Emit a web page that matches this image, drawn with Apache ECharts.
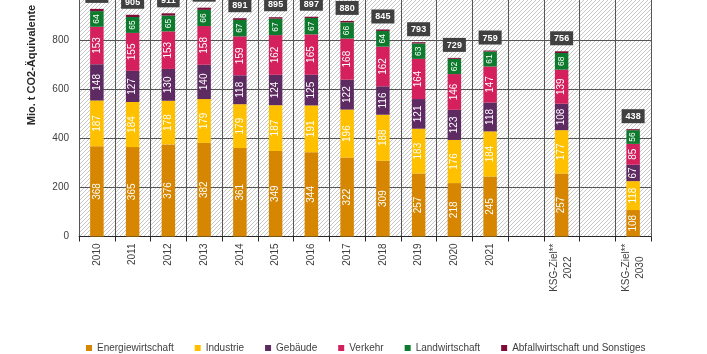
<!DOCTYPE html>
<html>
<head>
<meta charset="utf-8">
<script src="https://cdn.jsdelivr.net/npm/echarts@6/dist/echarts.min.js"></script>
<style>
html,body{margin:0;padding:0;background:#fff;}
#chart{width:707px;height:354px;}
</style>
</head>
<body>
<div id="chart"></div>
<script>
var categories = ['2010','2011','2012','2013','2014','2015','2016','2017','2018','2019','2020','2021','','KSG-Ziel**\n2022',' ','KSG-Ziel**\n2030'];
var seriesNames = ['Energiewirtschaft','Industrie','Gebäude','Verkehr','Landwirtschaft','Abfallwirtschaft und Sonstiges'];
var energie   = [368,365,376,382,361,349,344,322,309,257,218,245,'-',257,'-',108];
var industrie = [187,184,178,179,179,187,191,196,188,183,176,184,'-',177,'-',118];
var gebaeude  = [148,127,130,140,118,124,125,122,116,121,123,118,'-',108,'-',67];
var verkehr   = [153,155,153,158,159,162,165,168,162,164,146,147,'-',139,'-',85];
var landwirt  = [64,65,65,66,67,67,67,66,64,63,62,61,'-',68,'-',56];
var abfall    = [9,9,9,9,7,6,5,6,6,5,4,4,'-',7,'-',4];
var totals    = [929,905,911,934,891,895,897,880,845,793,729,759,'',756,'',438];
var yTicks = {min:0, max:1000, interval:200};

var colors = ['#d68600','#ffc000','#5d2b61','#d4205c','#0e7a2e','#7f0c37'];

var tile = document.createElement('canvas');
tile.width = 4; tile.height = 4;
var tc = tile.getContext('2d');
tc.fillStyle = '#ffffff'; tc.fillRect(0,0,4,4);
tc.strokeStyle = '#c6c6c6'; tc.lineWidth = 1;
tc.beginPath();
tc.moveTo(-1,5); tc.lineTo(5,-1);
tc.moveTo(-1,1); tc.lineTo(1,-1);
tc.moveTo(3,5); tc.lineTo(5,3);
tc.stroke();

var chart = echarts.init(document.getElementById('chart'), null, {renderer:'canvas'});

function inLabel(size){
  return {show:true, position:'inside', rotate:90, color:'#ffffff', fontSize:size, fontFamily:'Liberation Sans, Arial, sans-serif'};
}
var dataList = [energie, industrie, gebaeude, verkehr, landwirt, abfall];
var series = dataList.map(function(d,i){
  var s = {
    name: seriesNames[i], type:'bar', stack:'total', data:d, barWidth:13.5,
    itemStyle:{color:colors[i]},
    emphasis:{disabled:true},
    label: i===4 ? inLabel(8.5) : (i<4 ? inLabel(10) : {show:false})
  };
  if (i===5) {
    s.label = {
      show:true, position:'top', distance:6,
      formatter:function(p){ return String(totals[p.dataIndex]); },
      backgroundColor:'#404040', color:'#ffffff', padding:[3,4,2,4],
      fontSize:9, fontWeight:'bold', fontFamily:'Liberation Sans, Arial, sans-serif'
    };
  }
  return s;
});

chart.setOption({
  animation:false,
  textStyle:{fontFamily:'Liberation Sans, Arial, sans-serif'},
  grid:{left:79, right:56, top:-8.5, bottom:117.5, show:true, borderWidth:0,
        outerBoundsMode:'none', containLabel:false,
        backgroundColor:{image:tile, repeat:'repeat'}},
  legend:{
    data:seriesNames, left:86, top:343, padding:0,
    itemWidth:6, itemHeight:6, itemGap:21, icon:'rect',
    textStyle:{fontSize:10, color:'#404040'}
  },
  xAxis:{
    type:'category', data:categories,
    axisLine:{show:true, lineStyle:{color:'#262626', width:1}},
    axisTick:{show:true, length:5, lineStyle:{color:'#262626'}},
    splitLine:{show:true, lineStyle:{color:'#555555', width:1}},
    axisLabel:{
      interval:0, rotate:90, margin:7, fontSize:10, color:'#404040',
      formatter:function(v){
        if (v.indexOf('\n')>=0){
          var parts = v.split('\n');
          return '{a|'+parts[0]+'}\n{b|'+parts[1]+'}';
        }
        return v;
      },
      rich:{
        a:{fontSize:10, lineHeight:14, color:'#404040'},
        b:{fontSize:10, lineHeight:14, color:'#404040', align:'center'}
      }
    }
  },
  yAxis:{
    type:'value', min:yTicks.min, max:yTicks.max, interval:yTicks.interval,
    axisLine:{show:false}, axisTick:{show:false},
    splitLine:{show:true, lineStyle:{color:'#555555', width:1}},
    axisLabel:{fontSize:10, color:'#404040', margin:10}
  },
  graphic:[{
    type:'text', x:31.5, y:65, rotation:Math.PI/2,
    style:{text:'Mio. t CO2-Äquivalente', fontSize:11, fontWeight:'bold', fill:'#262626',
           textAlign:'center', textVerticalAlign:'middle', fontFamily:'Liberation Sans, Arial, sans-serif'}
  }],
  series:series
});
</script>
</body>
</html>
